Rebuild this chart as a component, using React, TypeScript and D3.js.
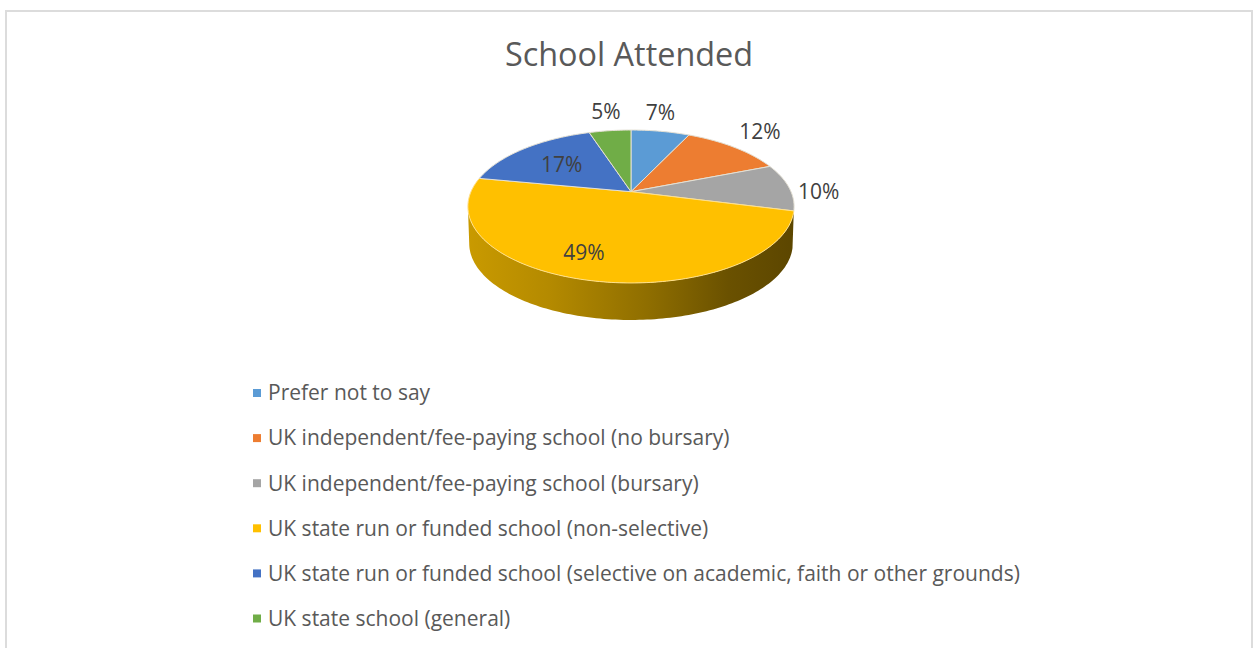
import React from "react";
import * as d3 from "d3";

const title = "School Attended";
const categories = [
  "Prefer not to say",
  "UK independent/fee-paying school (no bursary)",
  "UK independent/fee-paying school (bursary)",
  "UK state run or funded school (non-selective)",
  "UK state run or funded school (selective on academic, faith or other grounds)",
  "UK state school (general)",
];
const values = [7, 12, 10, 49, 17, 5];
const colors = ["#5B9BD5", "#ED7D31", "#A5A5A5", "#FFC000", "#4472C4", "#70AD47"];
const labelDx = [0, 26, 30, -4, 37, -4];
const labelDy = [-19, -16, 5, -28, 16, -19];

const W = 1253;
const H = 648;
const FONT = "'Open Sans', sans-serif";
const CX = 631;
const CY = 191.7;
const RX = 160;
const RY = 73.6;
const K = 0.1935;
const DEPTH = 37;

function project(angle: number, depth = 0): [number, number] {
  const u = Math.sin(angle);
  const v = Math.cos(angle);
  const w = 1 + K * v;
  const shrink = 1 - (depth / DEPTH) * 0.008;
  return [CX + (RX * u * shrink) / w, CY - (RY * v) / w + depth];
}

const line = d3.line<[number, number]>();
function rim(a0: number, a1: number, depth = 0): [number, number][] {
  const n = Math.max(2, Math.ceil(Math.abs(a1 - a0) / 0.02));
  return d3.range(n + 1).map((i) => project(a0 + ((a1 - a0) * i) / n, depth));
}

const arcs = d3.pie<number>().sort(null)(values);
const legendY = d3.scaleLinear().domain([0, 5]).range([393, 618.5]);

export default function App() {
  const yellow = arcs[3];
  const sideStart = yellow.startAngle;
  const sideEnd = Math.PI * 2 - Math.PI / 2 - Math.asin(K);
  const sidePts = [...rim(sideStart, sideEnd), ...rim(sideEnd, sideStart, DEPTH)];
  return (
    <svg
      width={W}
      height={H}
      viewBox={`0 0 ${W} ${H}`}
      style={{ position: "absolute", left: 0, top: 0, background: "#fff" }}
    >
      <defs>
        <linearGradient id="side" gradientUnits="userSpaceOnUse" x1={468} x2={794} y1={0} y2={0}>
          <stop offset="0" stopColor="#C99A00" />
          <stop offset="0.25" stopColor="#B48A00" />
          <stop offset="0.55" stopColor="#8F6E00" />
          <stop offset="0.8" stopColor="#6A5100" />
          <stop offset="1" stopColor="#5C4600" />
        </linearGradient>
      </defs>
      <rect x={6} y={11} width={1246} height={670} fill="#fff" stroke="#dcdcdc" strokeWidth={2} />
      <text x={629} y={66} textAnchor="middle" fontFamily={FONT} fontSize={32.4} fill="#595959">
        {title}
      </text>
      <path d={line(sidePts) + "Z"} fill="url(#side)" />
      {arcs.map((a, i) => (
        <path
          key={i}
          d={line([[CX, CY], ...rim(a.startAngle, a.endAngle)]) + "Z"}
          fill={colors[i]}
          stroke={i === 3 ? "#FFE08A" : "#E4E0D4"}
          strokeWidth={1}
          strokeLinejoin="round"
        />
      ))}
      {arcs.map((a, i) => {
        const [x, y] = project((a.startAngle + a.endAngle) / 2);
        return (
          <text
            key={i}
            x={x + labelDx[i]}
            y={y + labelDy[i]}
            dy="0.35em"
            textAnchor="middle"
            fontFamily={FONT}
            fontSize={21}
            fill="#404040"
          >
            {values[i]}%
          </text>
        );
      })}
      {categories.map((c, i) => (
        <g key={i}>
          <rect x={253} y={legendY(i) - 4} width={8} height={8} fill={colors[i]} />
          <text x={268} y={legendY(i)} dy="0.35em" fontFamily={FONT} fontSize={21} fill="#595959">
            {c}
          </text>
        </g>
      ))}
    </svg>
  );
}
